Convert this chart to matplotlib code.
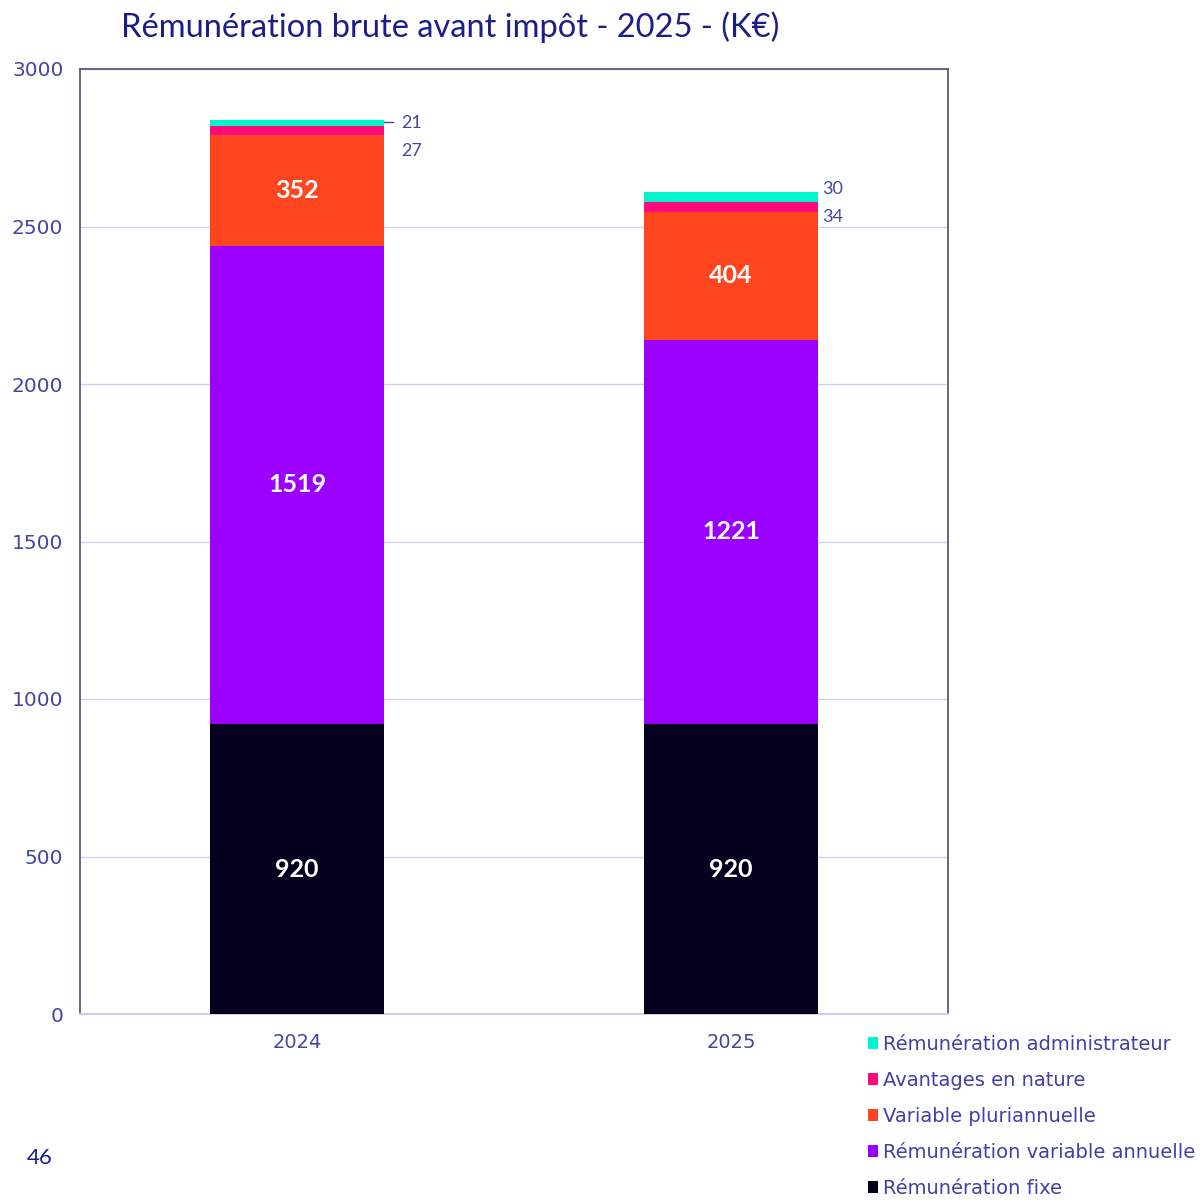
import matplotlib.pyplot as plt
import numpy as np

plt.rcParams['font.family'] = ['Lato', 'DejaVu Sans']

years = ['2024', '2025']
fixe = [920, 920]
variable_annuelle = [1519, 1221]
variable_pluri = [352, 404]
avantages = [27, 34]
admin = [21, 30]

series = [fixe, variable_annuelle, variable_pluri, avantages, admin]
names = ['Rémunération fixe', 'Rémunération variable annuelle',
         'Variable pluriannuelle', 'Avantages en nature',
         'Rémunération administrateur']
colors = ['#05001e', '#9b00ff', '#ff4520', '#ff0a7a', '#00f5cf']

navy = '#1c1c8a'
tick_col = '#4646a0'

fig = plt.figure(figsize=(12.03, 12.02), dpi=100)
ax = fig.add_axes([80 / 1203, 1 - 1014 / 1202, 868 / 1203, 945 / 1202])

x = np.arange(len(years))
bottom = np.zeros(len(years))
bars = []
for vals, name, col in zip(series, names, colors):
    b = ax.bar(x, vals, 0.4, bottom=bottom, color=col, label=name, zorder=3)
    bars.append(b)
    bottom = bottom + np.array(vals)

# labels inside the big segments
bottom = np.zeros(len(years))
for k, vals in enumerate(series):
    for i in range(len(years)):
        if k < 3:
            ax.text(x[i], bottom[i] + vals[i] / 2, str(vals[i]), ha='center', va='center',
                    color='white', fontsize=18, fontweight='bold', zorder=4)
    bottom = bottom + np.array(vals)

# small values on the right of the bars
dx = [0.24, 0.21]
dy = [-10, 10]
for i in range(len(years)):
    top = sum(s[i] for s in series)
    ax.text(x[i] + dx[i], top + dy[i], str(admin[i]), ha='left', va='center',
            color=tick_col, fontsize=13)
    ax.text(x[i] + dx[i], top + dy[i] - 90, str(avantages[i]),
            ha='left', va='center', color=tick_col, fontsize=13)
ax.plot([0.2, 0.222], [2832, 2832], color=tick_col, lw=1)

ax.set_xlim(-0.5, 1.5)
ax.set_ylim(0, 3000)
ax.set_yticks(range(0, 3001, 500))
ax.set_xticks(x)
ax.set_xticklabels(years)
ax.grid(axis='y', color='#d0d0f5', lw=1, zorder=0)
ax.tick_params(length=0, colors=tick_col)
ax.tick_params(axis='y', pad=12, labelsize=14.5)
ax.tick_params(axis='x', pad=14, labelsize=14)
for lab in ax.get_xticklabels() + ax.get_yticklabels():
    lab.set_family('DejaVu Sans')
for s in ['left', 'top', 'right']:
    ax.spines[s].set_color('#5c5c7a')
    ax.spines[s].set_linewidth(1.3)
ax.spines['bottom'].set_color('#c8c8f5')
ax.spines['bottom'].set_linewidth(1.3)

fig.text(450 / 1203, 1 - 27 / 1202, 'Rémunération brute avant impôt - 2025 - (K€)',
         ha='center', va='center', color=navy, fontsize=23.5)

fig.legend(bars[::-1], names[::-1], loc='upper left',
           bbox_to_anchor=(860 / 1203, 1 - 1027 / 1202), frameon=False,
           prop={'family': 'DejaVu Sans', 'size': 14}, labelcolor='#4040a8',
           handlelength=0.55, handleheight=0.55,
           handletextpad=0.25, labelspacing=0.88, borderaxespad=0)

fig.text(40 / 1203, 1 - 1158 / 1202, '46', ha='center', va='center', color=navy, fontsize=16)

fig.savefig('out.png', dpi=100)
